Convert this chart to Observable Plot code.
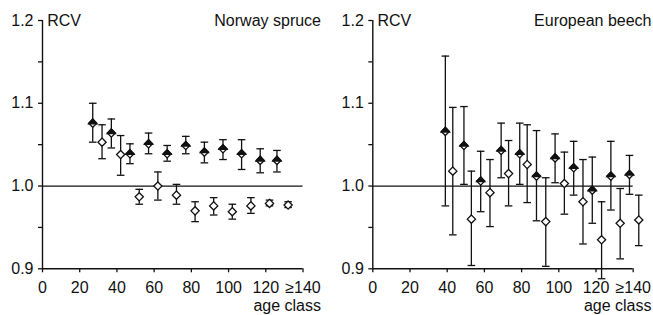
<!DOCTYPE html>
<html>
<head>
<meta charset="utf-8">
<script src="https://cdn.jsdelivr.net/npm/d3@7"></script>
<script src="https://cdn.jsdelivr.net/npm/@observablehq/plot@0.6"></script>
<style>
  html, body { margin: 0; padding: 0; background: #fff; }
  #wrap { display: flex; width: 653px; height: 315px; }
</style>
</head>
<body>
<div id="wrap"></div>
<script>
// ---- data ----
const xDomain = [0, 140];
const yDomain = [0.9, 1.2];
const refLine = [1.0];
const xTicks = [0, 20, 40, 60, 80, 100, 120, 140];
const xTickLabels = ["0", "20", "40", "60", "80", "100", "120", "≥140"];
const yTicks = [0.9, 0.95, 1.0, 1.05, 1.1, 1.15, 1.2];
const yTickLabels = ["0.9", "", "1.0", "", "1.1", "", "1.2"];
const yLabel = "RCV";
const xLabel = "age class";

// Norway spruce
const spruceTitle = "Norway spruce";
const spruceFilledAge = [27, 37, 47, 57, 67, 77, 87, 97, 107, 117, 126];
const spruceFilledVal = [1.076, 1.064, 1.039, 1.051, 1.039, 1.049, 1.041, 1.045, 1.039, 1.031, 1.031];
const spruceFilledHi  = [1.100, 1.081, 1.051, 1.064, 1.049, 1.060, 1.053, 1.056, 1.056, 1.045, 1.043];
const spruceFilledLo  = [1.053, 1.046, 1.027, 1.039, 1.030, 1.039, 1.028, 1.032, 1.020, 1.016, 1.017];
const spruceOpenAge = [32, 42, 52, 62, 72, 82, 92, 102, 112, 122, 132];
const spruceOpenVal = [1.053, 1.038, 0.987, 1.000, 0.989, 0.970, 0.976, 0.969, 0.976, 0.979, 0.977];
const spruceOpenHi  = [1.074, 1.061, 0.996, 1.017, 1.002, 0.981, 0.986, 0.978, 0.986, 0.983, 0.981];
const spruceOpenLo  = [1.033, 1.013, 0.978, 0.983, 0.978, 0.957, 0.965, 0.960, 0.967, 0.976, 0.974];

// European beech
const beechTitle = "European beech";
const beechFilledAge = [39, 49, 58, 69, 79, 88, 98, 108, 118, 128, 138];
const beechFilledVal = [1.066, 1.049, 1.006, 1.043, 1.039, 1.012, 1.034, 1.022, 0.995, 1.012, 1.014];
const beechFilledHi  = [1.157, 1.096, 1.042, 1.076, 1.076, 1.067, 1.063, 1.054, 1.035, 1.054, 1.037];
const beechFilledLo  = [0.976, 1.002, 0.969, 1.010, 1.002, 0.958, 1.004, 0.989, 0.955, 0.971, 0.990];
const beechOpenAge = [43, 53, 63, 73, 83, 93, 103, 113, 123, 133, 143];
const beechOpenVal = [1.018, 0.960, 0.992, 1.015, 1.026, 0.957, 1.003, 0.981, 0.935, 0.955, 0.959];
const beechOpenHi  = [1.095, 1.018, 1.032, 1.055, 1.074, 1.010, 1.041, 1.032, 0.981, 0.997, 0.989];
const beechOpenLo  = [0.941, 0.904, 0.951, 0.976, 0.980, 0.903, 0.966, 0.930, 0.888, 0.912, 0.928];

// ---- helpers ----
const rows = (age, val, hi, lo) => age.map((a, i) => ({age: a, val: val[i], hi: hi[i], lo: lo[i]}));
const capSymbol = {
  draw(ctx, size) { const r = Math.sqrt(size / Math.PI); ctx.moveTo(-r, 0); ctx.lineTo(r, 0); }
};
const topHalf = {
  draw(ctx, size) {
    const r = Math.sqrt(size) * 0.62625;
    ctx.moveTo(-r, 0.6); ctx.lineTo(0, -r); ctx.lineTo(r, 0.6); ctx.closePath();
  }
};
const FONT = "'Liberation Sans', Arial, Helvetica, sans-serif";

function panel({width, marginLeft, marginRight, title, filled, open, titleDx}) {
  const ebar = (data) => [
    Plot.ruleX(data, {x: "age", y1: "lo", y2: "hi", stroke: "#111", strokeWidth: 1.3}),
    Plot.dot(data, {x: "age", y: "hi", symbol: capSymbol, r: 3.8, stroke: "#111", strokeWidth: 1.3}),
    Plot.dot(data, {x: "age", y: "lo", symbol: capSymbol, r: 3.8, stroke: "#111", strokeWidth: 1.3})
  ];
  const label = (txt, anchor, dx, dy, textAnchor, spacing) =>
    Plot.text([txt], {frameAnchor: anchor, dx, dy, textAnchor, lineAnchor: "middle",
      fontSize: 16, fill: "#111", letterSpacing: spacing});
  return Plot.plot({
    width, height: 315,
    marginLeft, marginRight, marginTop: 20, marginBottom: 46.7,
    style: {fontFamily: FONT, fontSize: "16px", background: "white", color: "#111"},
    x: {domain: xDomain},
    y: {domain: yDomain},
    marks: [
      Plot.ruleY(refLine, {x1: xDomain[0], x2: xDomain[1], stroke: "#111", strokeWidth: 1.3}),
      Plot.ruleX([xDomain[0]], {y1: yDomain[0], y2: yDomain[1], stroke: "#111", strokeWidth: 1.4}),
      Plot.ruleY([yDomain[0]], {x1: xDomain[0], x2: xDomain[1], stroke: "#111", strokeWidth: 1.4}),
      Plot.axisY({ticks: yTicks, tickSize: 4, tickPadding: 5, strokeWidth: 1.3, fontSize: 16,
        tickFormat: (d) => yTickLabels[yTicks.findIndex(t => Math.abs(t - d) < 1e-9)], label: null}),
      Plot.axisX({ticks: xTicks, tickSize: 4, tickPadding: 9, strokeWidth: 1.3, fontSize: 16,
        tickFormat: (d) => xTickLabels[xTicks.indexOf(d)], label: null}),
      ...ebar(filled),
      ...ebar(open),
      Plot.dot(open, {x: "age", y: "val", symbol: "diamond2", r: 3.7, fill: "white", stroke: "#111", strokeWidth: 1.3}),
      Plot.dot(filled, {x: "age", y: "val", symbol: "diamond2", r: 3.7, fill: "white", stroke: "#111", strokeWidth: 1.3}),
      Plot.dot(filled, {x: "age", y: "val", symbol: topHalf, r: 3.7, fill: "#111", stroke: "#111", strokeWidth: 1.3}),
      label(yLabel, "top-left", 4.7, 0.5, "start", "0px"),
      label(title, "top-right", titleDx, 0.5, "end", "0.65px"),
      label(xLabel, "bottom-right", titleDx, 36.7, "end", "0.65px")
    ]
  });
}

const wrap = document.getElementById("wrap");
wrap.appendChild(panel({
  width: 330, marginLeft: 42, marginRight: 27.5, title: spruceTitle, titleDx: 18,
  filled: rows(spruceFilledAge, spruceFilledVal, spruceFilledHi, spruceFilledLo),
  open: rows(spruceOpenAge, spruceOpenVal, spruceOpenHi, spruceOpenLo)
}));
wrap.appendChild(panel({
  width: 323, marginLeft: 42.3, marginRight: 20.3, title: beechTitle, titleDx: 18.3,
  filled: rows(beechFilledAge, beechFilledVal, beechFilledHi, beechFilledLo),
  open: rows(beechOpenAge, beechOpenVal, beechOpenHi, beechOpenLo)
}));
</script>
</body>
</html>
